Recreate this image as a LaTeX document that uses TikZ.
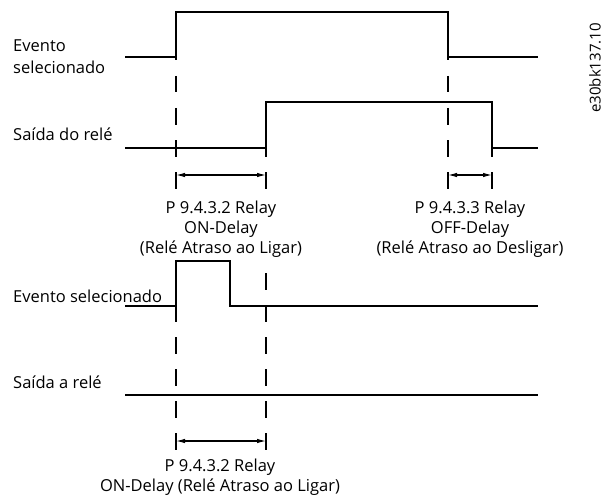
\documentclass[tikz,border=0pt]{standalone}
\usepackage{fontspec}
\setmainfont{Open Sans}
\usetikzlibrary{arrows.meta,positioning}

\begin{document}
\begin{tikzpicture}[
    x=1pt, y=-1pt,
    signal/.style={
        draw,
        line width=1.1pt
    },
    guide/.style={
        draw,
        line width=1.1pt,
        dash pattern=on 16.5pt off 15.5pt
    },
    delay/.style={
        draw,
        line width=1.1pt,
        {Latex[length=9pt,width=4.5pt]}-{Latex[length=9pt,width=4.5pt]}
    },
    lbl/.style={
        anchor=base west,
        inner sep=0pt,
        font=\fontsize{16.5}{22.5}\selectfont
    },
    note/.style={
        anchor=base,
        align=center,
        inner sep=0pt,
        font=\fontsize{16.5}{20}\selectfont
    }
]
    \useasboundingbox (0,0) rectangle (603,495);

    % --- Nodes ---

    % Signal names (left), base = last line
    \node [lbl, align=left] (evtTop) at (13,74) {Evento\\selecionado};
    \node [lbl] (relTop) at (13,140) {Saída do relé};
    \node [lbl] (evtBot) at (13,302) {Evento selecionado};
    \node [lbl] (relBot) at (13,388) {Saída a relé};

    % Drawing number
    \node [rotate=90, inner sep=0pt, font=\fontsize{15}{17}\selectfont] (docid) at (595,68) {e30bk137.10};

    % Time marks
    \coordinate (onA) at (176,175);
    \coordinate (onB) at (266,175);
    \coordinate (offA) at (448,175);
    \coordinate (offB) at (492,175);
    \coordinate (onC) at (176,441);
    \coordinate (onD) at (266,441);

    % Delay texts
    \node [note] (onNote) at (221,253) {P 9.4.3.2 Relay\\ON-Delay\\(Relé Atraso ao Ligar)};
    \node [note] (offNote) at (470,253) {P 9.4.3.3 Relay\\OFF-Delay\\(Relé Atraso ao Desligar)};
    \node [note] (onNoteBot) at (220,491) {P 9.4.3.2 Relay\\ON-Delay (Relé Atraso ao Ligar)};

    % --- Waveforms ---

    % Top: event and relay output
    \draw [signal] (125,57) -| (176,12) -| (448,57) -- (538,57);
    \draw [signal] (125,148) -| (266,102) -| (492,148) -- (538,148);

    % Bottom: short event, relay never switches
    \draw [signal] (125,306) -| (176,261) -| (230,306) -- (538,306);
    \draw [signal] (125,395) -- (538,395);

    % --- Guides ---
    \draw [guide] (176,12) -- (176,188.5);
    \draw [guide] (448,12) -- (448,188.5);
    \draw [guide] (266,108) -- (266,188.5);
    \draw [guide] (492,108) -- (492,188.5);
    \draw [guide] (176,273) -- (176,449.5);
    \draw [guide] (266,273) -- (266,449.5);

    % --- Delays ---
    \path [delay] (onA) -- (onB);
    \path [delay] (offA) -- (offB);
    \path [delay] (onC) -- (onD);

\end{tikzpicture}
\end{document}
